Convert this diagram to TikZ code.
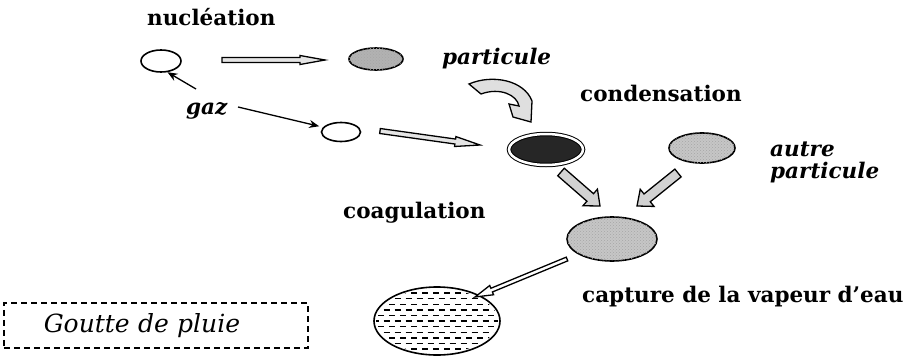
\documentclass[tikz,border=0pt]{standalone}
\usepackage{fontspec}
\setmainfont{DejaVu Serif}
\usepackage{tikz}
\usetikzlibrary{shapes.geometric,arrows.meta,calc,patterns}

\tikzset{
  gouttelette/.style={ellipse, draw, line width=1.6pt, inner sep=0pt},
  grain/.style={postaction={pattern=crosshatch dots, pattern color=black!35}},
  lab/.style={font=\fontsize{21.5}{24}\selectfont\bfseries, inner sep=0pt},
  ital/.style={font=\fontsize{21.5}{22}\selectfont\bfseries\itshape, inner sep=0pt},
  fleche/.style={draw, line width=1.3pt, fill=#1, line join=miter},
  fleche/.default=gray!20,
  fil/.style={line width=1.3pt, -{Stealth[length=10pt,width=8pt]}},
  pointille/.style={line width=1.4pt, dash pattern=on 6pt off 5pt},
  boite/.style={draw, line width=1.5pt, dash pattern=on 6pt off 4pt, text width=224pt,
    align=left, inner xsep=40pt, minimum height=45pt, font=\fontsize{25}{27}\selectfont\itshape},
}
% fleche creuse : remplissage, depart, arrivee, demi-corps, demi-tete, longueur tete
\newcommand\grossefleche[6][gray!20]{%
  \coordinate (gf-h) at ($(#3)!#6!(#2)$);
  \filldraw[fleche=#1] ($(#2)!#4!90:(#3)$) -- ($(gf-h)!#4!-90:(#2)$) -- ($(gf-h)!#5!-90:(#2)$)
    -- (#3) -- ($(gf-h)!#5!90:(#2)$) -- ($(gf-h)!#4!90:(#2)$) -- ($(#2)!#4!-90:(#3)$) -- cycle;}

\begin{document}
\begin{tikzpicture}[x=1pt,y=-1pt]
  \useasboundingbox (0,0) rectangle (904,356);
  % les gouttelettes
  \node[gouttelette, minimum width=40pt, minimum height=22pt] (germe) at (161,61) {};
  \node[gouttelette, fill=gray!60, grain, minimum width=54pt, minimum height=22pt] (particule) at (376,59) {};
  \node[gouttelette, minimum width=39pt, minimum height=19pt] (gazb) at (341,132) {};
  \node[gouttelette, fill=black!85, double, double distance=2.5pt, line width=1pt,
    minimum width=74pt, minimum height=31pt] (conde) at (546,149.5) {};
  \node[gouttelette, fill=gray!45, grain, minimum width=66pt, minimum height=30pt] (autre) at (702,148) {};
  \node[gouttelette, fill=gray!45, grain, minimum width=90pt, minimum height=44pt] (coag) at (612,239) {};
  \node[gouttelette, fill=white, minimum width=126pt, minimum height=68pt] (goutte) at (437,321) {};
  \begin{scope}
    \clip (goutte.center) ellipse [x radius=61pt, y radius=32pt];
    \foreach \k in {-5,-3,...,5}
      \draw[pointille] ($(goutte.center)+(-70,\k*5.6)$) -- +(140,0);
    \foreach \k in {-4,-2,...,4}
      \draw[pointille, dash phase=5.5pt] ($(goutte.center)+(-70,\k*5.6)$) -- +(140,0);
  \end{scope}

  % textes
  \node[lab, anchor=base west] (lnuc) at (147,25) {nucléation};
  \node[ital, anchor=base west] (lpart) at (442,64) {particule};
  \node[ital, anchor=base west] (lgaz) at (186,114) {gaz};
  \node[lab, anchor=base west] (lcond) at (580,101) {condensation};
  \node[ital, anchor=north west, align=left] (lautre) at (770,142) {autre\\particule};
  \node[lab, anchor=base west] (lcoag) at (343,218) {coagulation};
  \node[lab, anchor=base west] (lcapt) at (582,302) {capture de la vapeur d'eau};
  \node[boite, anchor=north west] (lgoutte) at (3,302) {Goutte de pluie};

  % fleches
  \coordinate (g1) at (196,89);
  \coordinate (g2) at (238,107);
  \draw[fil] (g1) -- (germe.-60);
  \draw[fil, shorten >=4pt] (g2) -- (gazb.165);
  \coordinate (f1a) at (222,60); \coordinate (f1b) at (325,60);
  \grossefleche{f1a}{f1b}{2.5pt}{4.5pt}{25pt}
  \coordinate (f2a) at (380,131); \coordinate (f2b) at (480,145);
  \grossefleche{f2a}{f2b}{2.5pt}{5pt}{25pt}
  \coordinate (f3a) at (561,172); \coordinate (f3b) at (600,206);
  \grossefleche[gray!35]{f3a}{f3b}{5pt}{11pt}{13pt}
  \coordinate (f4a) at (678,173); \coordinate (f4b) at (637,206);
  \grossefleche[gray!35]{f4a}{f4b}{5pt}{11pt}{13pt}
  \coordinate (f5a) at (567,259); \coordinate (f5b) at (475,297);
  \grossefleche[white]{f5a}{f5b}{2pt}{5pt}{18pt}
  % fleche courbe
  \filldraw[fleche=gray!25] (469,84) .. controls (492,74) and (524,80) .. (532,101) -- (531,122)
    -- (513,117) -- (509,104) -- (519,106) .. controls (517,95) and (500,87) .. (481,94) -- cycle;
\end{tikzpicture}
\end{document}
